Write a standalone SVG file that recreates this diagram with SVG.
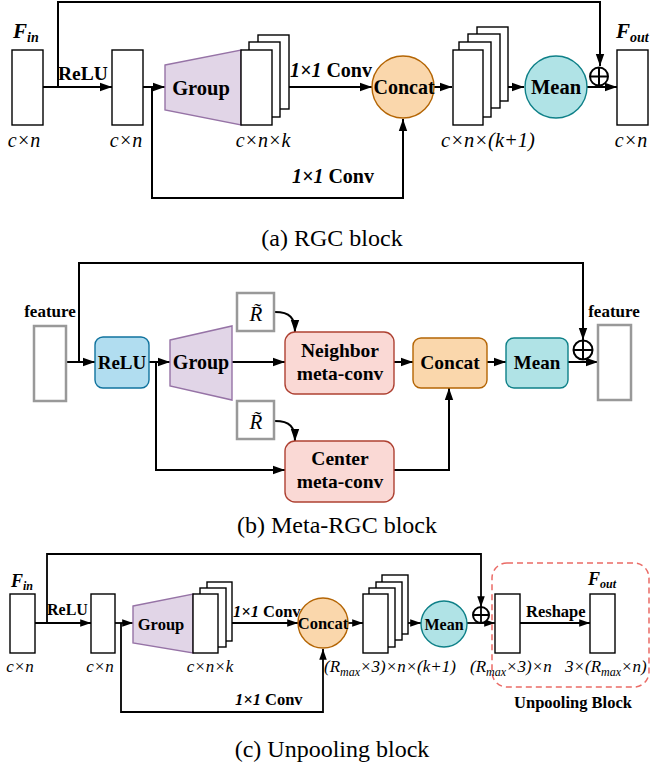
<svg xmlns="http://www.w3.org/2000/svg" width="652" height="768" viewBox="0 0 652 768">
<defs>
<marker id="ah" viewBox="0 0 10 10" refX="10" refY="5" markerWidth="6" markerHeight="6" orient="auto" markerUnits="strokeWidth"><path d="M0,1.5 L10,5 L0,8.5 z" fill="#000"/></marker>
<style>
.ln{stroke:#000;stroke-width:2;fill:none}
.lc{stroke:#000;stroke-width:1.8;fill:none}
.bx{fill:#fff;stroke:#000;stroke-width:1.4}
.gb{fill:#fff;stroke:#999;stroke-width:2.5}
.op{fill:#fff;stroke:#000;stroke-width:2}
.b{font-family:"Liberation Serif",serif;font-weight:bold;fill:#000}
.i{font-family:"Liberation Serif",serif;font-style:italic;fill:#000}
.bi{font-family:"Liberation Serif",serif;font-style:italic;font-weight:bold;fill:#000}
.cap{font-family:"Liberation Serif",serif;font-size:24px;fill:#000}
.m{text-anchor:middle}
.grp{fill:#e1d5e7;stroke:#9673a6;stroke-width:1.4}
.org{fill:#fad7ac;stroke:#b46504;stroke-width:1.4}
.tea{fill:#b0e3e6;stroke:#0e8088;stroke-width:1.4}
.blu{fill:#b1ddf0;stroke:#10739e;stroke-width:1.4}
.red{fill:#fad9d5;stroke:#ae4132;stroke-width:1.4}
</style>
</defs>
<rect width="652" height="768" fill="#fff"/>

<!-- ===== (a) RGC block ===== -->
<g id="connectors-a">
<path class="ln" d="M58,87 V2 H600 V66" marker-end="url(#ah)"/>
<path class="ln" d="M43,87 H112" marker-end="url(#ah)"/>
<path class="ln" d="M143,87 H165" marker-end="url(#ah)"/>
<path class="ln" d="M152,87 V198 H403 V119" marker-end="url(#ah)"/>
<path class="ln" d="M289,87 H372" marker-end="url(#ah)"/>
<path class="ln" d="M434,87 H452" marker-end="url(#ah)"/>
<path class="ln" d="M508,87 H524" marker-end="url(#ah)"/>
<path class="ln" d="M587,87 H617" marker-end="url(#ah)"/>
<text class="b" x="58" y="80" font-size="19.5">ReLU</text>
<text x="290" y="77" font-size="20"><tspan class="bi">1×1</tspan><tspan class="b"> Conv</tspan></text>
<text x="292" y="183" font-size="20"><tspan class="bi">1×1</tspan><tspan class="b"> Conv</tspan></text>
</g>
<g id="a-fin">
<text class="bi" x="13" y="38" font-size="21">F<tspan font-size="14" dy="4">in</tspan></text>
<rect class="bx" x="12" y="50" width="31" height="75"/>
<text class="i m" x="24" y="147" font-size="20">c×n</text>
</g>
<g id="a-relu">
<rect class="bx" x="112" y="50" width="31" height="75"/>
<text class="i m" x="126" y="147" font-size="20">c×n</text>
</g>
<g id="a-group">
<polygon class="grp" points="165,65 241,50 241,125 165,110"/>
<text class="b m" x="201" y="95" font-size="20.5">Group</text>
<rect class="bx" x="258" y="35" width="31" height="74"/>
<rect class="bx" x="249" y="42" width="31" height="75"/>
<rect class="bx" x="241" y="50" width="31" height="75"/>
<text class="i m" x="263" y="147" font-size="20">c×n×k</text>
</g>
<g id="a-concat">
<circle class="org" cx="403" cy="87" r="31"/>
<text class="b m" x="404" y="94" font-size="20">Concat</text>
</g>
<g id="a-stack">
<rect class="bx" x="477" y="27" width="31" height="74"/>
<rect class="bx" x="468" y="34" width="32" height="74"/>
<rect class="bx" x="459" y="42" width="32" height="75"/>
<rect class="bx" x="453" y="50" width="30" height="75"/>
<text class="i m" x="488" y="147" font-size="20.5">c×n×(k+1)</text>
</g>
<g id="a-mean">
<circle class="tea" cx="556" cy="87" r="31"/>
<text class="b m" x="556" y="94" font-size="20.5">Mean</text>
</g>
<g id="a-add">
<circle class="op" cx="599" cy="76.5" r="9"/>
<path class="ln" d="M590,76.5 H608 M599,67.5 V85.5"/>
</g>
<g id="a-fout">
<text class="bi" x="616" y="38" font-size="21">F<tspan font-size="14" dy="4">out</tspan></text>
<rect class="bx" x="617" y="50" width="31" height="75"/>
<text class="i m" x="631" y="147" font-size="20">c×n</text>
</g>
<text class="cap m" x="332" y="246">(a) RGC block</text>

<!-- ===== (b) Meta-RGC block ===== -->
<g id="connectors-b">
<path class="ln" d="M79,362 V263 H583 V340" marker-end="url(#ah)"/>
<path class="ln" d="M66,362 H95" marker-end="url(#ah)"/>
<path class="ln" d="M149,362 H170" marker-end="url(#ah)"/>
<path class="ln" d="M156,362 V470 H285" marker-end="url(#ah)"/>
<path class="ln" d="M232,362 H285" marker-end="url(#ah)"/>
<path class="ln" d="M275,312 C290,312 295,318 295,332" marker-end="url(#ah)"/>
<path class="ln" d="M275,421 C290,421 295,427 295,441" marker-end="url(#ah)"/>
<path class="ln" d="M394,362 H413" marker-end="url(#ah)"/>
<path class="ln" d="M394,470 H449 V388" marker-end="url(#ah)"/>
<path class="ln" d="M487,362 H506" marker-end="url(#ah)"/>
<path class="ln" d="M568,362 H598" marker-end="url(#ah)"/>
</g>
<g id="b-feature-in">
<text class="b m" x="50" y="317" font-size="17">feature</text>
<rect class="gb" x="34" y="326" width="32" height="75"/>
</g>
<g id="b-relu">
<rect class="blu" x="95" y="337" width="54" height="51" rx="8"/>
<text class="b m" x="122" y="369" font-size="19">ReLU</text>
</g>
<g id="b-group">
<polygon class="grp" points="170,340 232,326 232,400 170,386"/>
<text class="b m" x="201" y="369" font-size="20">Group</text>
</g>
<g id="b-r1">
<rect class="gb" x="237" y="293" width="37" height="38"/>
<text class="i m" x="256" y="321" font-size="21" fill="#333">R̃</text>
</g>
<g id="b-r2">
<rect class="gb" x="237" y="401" width="37" height="38"/>
<text class="i m" x="256" y="429" font-size="21" fill="#333">R̃</text>
</g>
<g id="b-neighbor">
<rect class="red" x="285" y="332" width="109" height="62" rx="10"/>
<text class="b m" x="340" y="357" font-size="19.5">Neighbor</text>
<text class="b m" x="340" y="380" font-size="19.5">meta-conv</text>
</g>
<g id="b-center">
<rect class="red" x="285" y="441" width="109" height="61" rx="10"/>
<text class="b m" x="340" y="465" font-size="19.5">Center</text>
<text class="b m" x="340" y="488" font-size="19.5">meta-conv</text>
</g>
<g id="b-concat">
<rect class="org" x="413" y="338" width="74" height="50" rx="8"/>
<text class="b m" x="450" y="369" font-size="19.5">Concat</text>
</g>
<g id="b-mean">
<rect class="tea" x="506" y="338" width="62" height="50" rx="8"/>
<text class="b m" x="537" y="369" font-size="19">Mean</text>
</g>
<g id="b-add">
<circle class="op" cx="583" cy="350" r="9.5"/>
<path class="ln" d="M573.5,350 H592.5 M583,340.5 V359.5"/>
</g>
<g id="b-feature-out">
<text class="b m" x="614" y="317" font-size="17">feature</text>
<rect class="gb" x="598" y="325" width="33" height="75"/>
</g>
<text class="cap m" x="337" y="533">(b) Meta-RGC block</text>

<!-- ===== (c) Unpooling block ===== -->
<g id="connectors-c">
<path class="lc" d="M47,623 V554 H481 V607" marker-end="url(#ah)"/>
<path class="lc" d="M35,623 H91" marker-end="url(#ah)"/>
<path class="lc" d="M115,623 H133" marker-end="url(#ah)"/>
<path class="lc" d="M121,623 V712 H323 V649" marker-end="url(#ah)"/>
<path class="lc" d="M232,623 H298" marker-end="url(#ah)"/>
<path class="lc" d="M347,623 H363" marker-end="url(#ah)"/>
<path class="lc" d="M408,623 H421" marker-end="url(#ah)"/>
<path class="lc" d="M467,623 H495" marker-end="url(#ah)"/>
<path class="lc" d="M520,623 H590" marker-end="url(#ah)"/>
<text class="b" x="47" y="615" font-size="16">ReLU</text>
<text x="233" y="617" font-size="16.5"><tspan class="bi">1×1</tspan><tspan class="b"> Conv</tspan></text>
<text x="235" y="705" font-size="16.5"><tspan class="bi">1×1</tspan><tspan class="b"> Conv</tspan></text>
<text class="b" x="526" y="617" font-size="16.5">Reshape</text>
</g>
<g id="c-fin">
<text class="bi" x="11" y="587" font-size="18">F<tspan font-size="12" dy="3">in</tspan></text>
<rect class="bx" x="10" y="594" width="25" height="59"/>
<text class="i m" x="20" y="672" font-size="17">c×n</text>
</g>
<g id="c-relu">
<rect class="bx" x="91" y="594" width="24" height="59"/>
<text class="i m" x="100" y="672" font-size="17">c×n</text>
</g>
<g id="c-group">
<polygon class="grp" points="133,606 193,594 193,653 133,643"/>
<text class="b m" x="161" y="630" font-size="16.5">Group</text>
<rect class="bx" x="207" y="582" width="25" height="59"/>
<rect class="bx" x="200" y="588" width="26" height="59"/>
<rect class="bx" x="193" y="594" width="25" height="59"/>
<text class="i m" x="210" y="672" font-size="17">c×n×k</text>
</g>
<g id="c-concat">
<circle class="org" cx="323" cy="623" r="25"/>
<text class="b m" x="323" y="629" font-size="16.5">Concat</text>
</g>
<g id="c-stack">
<rect class="bx" x="382" y="575" width="26" height="59"/>
<rect class="bx" x="376" y="582" width="26" height="58"/>
<rect class="bx" x="369" y="588" width="26" height="59"/>
<rect class="bx" x="363" y="594" width="25" height="59"/>
<text class="i" x="324" y="672" font-size="17">(R<tspan font-size="12" dy="4">max</tspan><tspan dy="-4">×3)×n×(k+1)</tspan></text>
</g>
<g id="c-mean">
<circle class="tea" cx="444" cy="624" r="23"/>
<text class="b m" x="444" y="630" font-size="16">Mean</text>
</g>
<g id="c-add">
<circle class="op" cx="481" cy="615" r="8"/>
<path class="lc" d="M473,615 H489 M481,607 V623"/>
</g>
<g id="c-unpool">
<rect x="492" y="563" width="157" height="124" rx="15" fill="none" stroke="#ea6b66" stroke-width="1.5" stroke-dasharray="6,4"/>
<rect class="bx" x="495" y="594" width="25" height="59"/>
<text class="i" x="470" y="672" font-size="17">(R<tspan font-size="12" dy="4">max</tspan><tspan dy="-4">×3)×n</tspan></text>
<text class="bi" x="588" y="585" font-size="18">F<tspan font-size="12" dy="3">out</tspan></text>
<rect class="bx" x="590" y="594" width="25" height="59"/>
<text class="i" x="565" y="672" font-size="17">3×(R<tspan font-size="12" dy="4">max</tspan><tspan dy="-4">×n)</tspan></text>
<text class="b m" x="573" y="708" font-size="16.5">Unpooling Block</text>
</g>
<text class="cap m" x="332" y="757">(c) Unpooling block</text>
</svg>
